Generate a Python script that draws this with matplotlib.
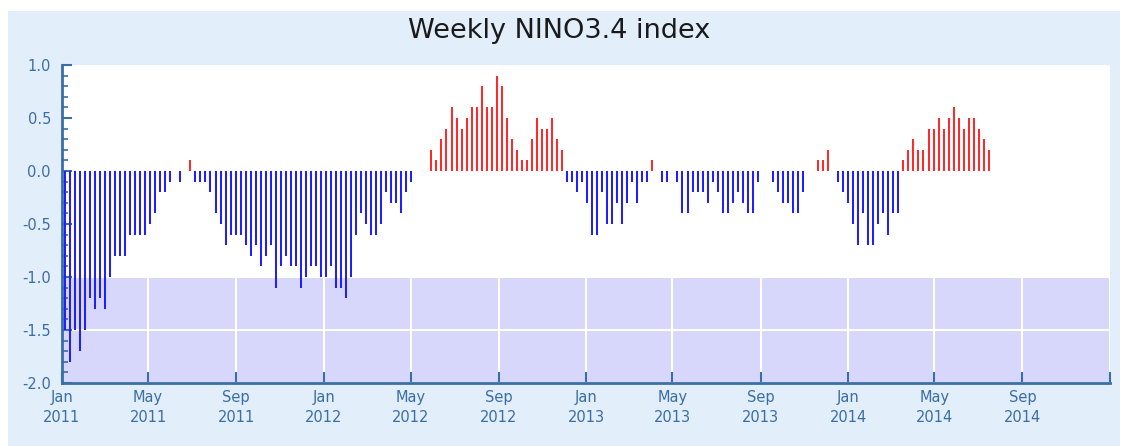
import matplotlib
matplotlib.use("Agg")
import matplotlib.pyplot as plt
from matplotlib.patches import Rectangle
import pandas as pd
import numpy as np

# ---- data ----
start_week = "2011-01-05"
nino34 = [
    -1.5, -1.8, -1.5, -1.7, -1.5, -1.2, -1.3, -1.2, -1.3, -1.0,
    -0.8, -0.8, -0.8, -0.6, -0.6, -0.6, -0.6, -0.5, -0.4, -0.2,
    -0.2, -0.1, 0.0, -0.1, 0.0, 0.1, -0.1, -0.1, -0.1, -0.2,
    -0.4, -0.5, -0.7, -0.6, -0.6, -0.6, -0.7, -0.8, -0.7, -0.9,
    -0.8, -0.7, -1.1, -0.9, -0.8, -0.9, -0.9, -1.1, -1.0, -0.9,
    -0.9, -1.0, -1.0, -0.9, -1.1, -1.1, -1.2, -1.0, -0.6, -0.4,
    -0.5, -0.6, -0.6, -0.5, -0.2, -0.3, -0.3, -0.4, -0.2, -0.1,
    0.0, 0.0, 0.0, 0.2, 0.1, 0.3, 0.4, 0.6, 0.5, 0.4,
    0.5, 0.6, 0.6, 0.8, 0.6, 0.6, 0.9, 0.8, 0.5, 0.3,
    0.2, 0.1, 0.1, 0.3, 0.5, 0.4, 0.4, 0.5, 0.3, 0.2,
    -0.1, -0.1, -0.2, -0.1, -0.3, -0.6, -0.6, -0.2, -0.5, -0.5,
    -0.3, -0.5, -0.3, -0.1, -0.3, -0.1, -0.1, 0.1, 0.0, -0.1,
    -0.1, 0.0, -0.1, -0.4, -0.4, -0.2, -0.2, -0.2, -0.3, -0.1,
    -0.2, -0.4, -0.4, -0.3, -0.2, -0.3, -0.4, -0.4, -0.1, 0.0,
    0.0, -0.1, -0.2, -0.3, -0.3, -0.4, -0.4, -0.2, 0.0, 0.0,
    0.1, 0.1, 0.2, 0.0, -0.1, -0.2, -0.3, -0.5, -0.7, -0.4,
    -0.7, -0.7, -0.5, -0.4, -0.6, -0.4, -0.4, 0.1, 0.2, 0.3,
    0.2, 0.2, 0.4, 0.4, 0.5, 0.4, 0.5, 0.6, 0.5, 0.4,
    0.5, 0.5, 0.4, 0.3, 0.2,
]
tick_dates = ["2011-01-01", "2011-05-01", "2011-09-01", "2012-01-01", "2012-05-01",
              "2012-09-01", "2013-01-01", "2013-05-01", "2013-09-01", "2014-01-01",
              "2014-05-01", "2014-09-01", "2015-01-01"]
tick_labels = ["Jan\n2011", "May\n2011", "Sep\n2011", "Jan\n2012", "May\n2012",
               "Sep\n2012", "Jan\n2013", "May\n2013", "Sep\n2013", "Jan\n2014",
               "May\n2014", "Sep\n2014", ""]
y_ticks = [-2.0, -1.5, -1.0, -0.5, 0.0, 0.5, 1.0]
title = "Weekly NINO3.4 index"

# ---- styling ----
panel_color = "#e2eef9"
band_color = "#d7d7fb"
axis_color = "#3a6ea8"
blue = "#1f1fff"
red = "#ff2a2a"

dates = pd.date_range(start_week, periods=len(nino34), freq="7D")
vals = np.array(nino34)
colors = [red if v > 0 else blue for v in vals]

fig = plt.figure(figsize=(11.29, 4.46), dpi=100, facecolor="white")
panel = Rectangle((8 / 1129, 0), (1120 - 8) / 1129, 1 - 11 / 446,
                  transform=fig.transFigure, facecolor=panel_color,
                  edgecolor="none", zorder=-10)
fig.add_artist(panel)

ax = fig.add_axes([62 / 1129, 1 - 383 / 446, (1110 - 62) / 1129, (383 - 65) / 446])
ax.set_zorder(5)
ax.set_facecolor("white")
ax.axhspan(-2.0, -1.0, color=band_color, zorder=0, lw=0)

nz = vals != 0
ax.vlines(dates[nz], 0, vals[nz], colors=[c for c, k in zip(colors, nz) if k],
          lw=1.45, zorder=3, capstyle="butt", snap=True)

ax.set_xlim(pd.Timestamp("2011-01-01"), pd.Timestamp("2015-01-01"))
ax.set_ylim(-2.0, 1.0)

tick_pos = [pd.Timestamp(d) for d in tick_dates]
ax.set_xticks(tick_pos)
ax.set_xticklabels(tick_labels)
ax.set_yticks(y_ticks)
ax.set_yticklabels([f"{t:.1f}" for t in y_ticks])
ax.set_yticks(np.arange(-2.0, 1.01, 0.1), minor=True)

ax.grid(True, which="major", color="white", lw=1.5, zorder=1)

for s in ["top", "right"]:
    ax.spines[s].set_visible(False)
for s in ["left", "bottom"]:
    ax.spines[s].set_color(axis_color)
    ax.spines[s].set_linewidth(2)
    ax.spines[s].set_zorder(6)

ax.tick_params(axis="y", which="major", direction="in", length=7, width=1.5,
               color=axis_color, labelcolor=axis_color, labelsize=10.5, pad=8)
ax.tick_params(axis="y", which="minor", direction="in", length=4, width=1.2,
               color=axis_color)
ax.tick_params(axis="x", which="major", direction="in", length=8, width=1.5,
               color=axis_color, labelcolor=axis_color, labelsize=10.5, pad=5)
for lab in ax.get_xticklabels():
    lab.set_linespacing(1.4)

fig.text(559 / 1129, 1 - 38.5 / 446, title, ha="center", va="baseline",
         fontsize=19.5, color="#1a1a1a")

fig.savefig("out.png", dpi=100, facecolor=fig.get_facecolor())
